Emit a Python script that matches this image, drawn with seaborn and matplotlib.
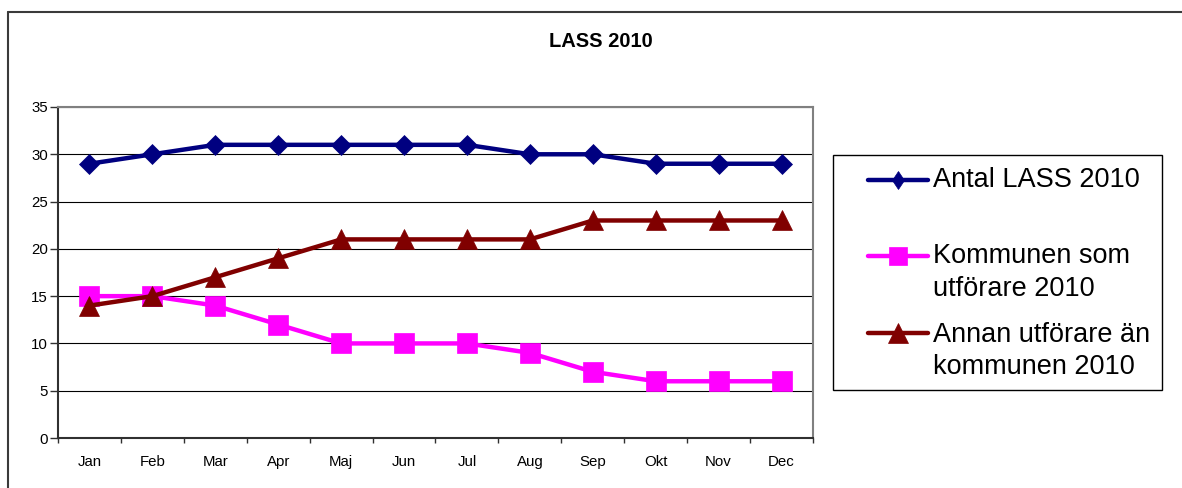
import matplotlib
matplotlib.use("Agg")
import matplotlib.pyplot as plt
from matplotlib.lines import Line2D
from matplotlib.patches import Rectangle
import numpy as np
import pandas as pd
import seaborn as sns

# Monthly counts for 2010
months = ["Jan", "Feb", "Mar", "Apr", "Maj", "Jun", "Jul", "Aug", "Sep", "Okt", "Nov", "Dec"]
antal_lass = [29, 30, 31, 31, 31, 31, 31, 30, 30, 29, 29, 29]
kommunen = [15, 15, 14, 12, 10, 10, 10, 9, 7, 6, 6, 6]
annan = [14, 15, 17, 19, 21, 21, 21, 21, 23, 23, 23, 23]

series_names = ["Antal LASS 2010", "Kommunen som\nutförare 2010", "Annan utförare än\nkommunen 2010"]
series_values = [antal_lass, kommunen, annan]
colors = ["#000080", "#FF00FF", "#800000"]
markers = ["D", "s", "^"]
marker_sizes = [10.5, 14, 15]
legend_markers = ["d", "s", "^"]
legend_marker_sizes = [9.5, 13.5, 14]

sns.set_theme(style="white")
plt.rcParams["font.family"] = ["Liberation Sans", "DejaVu Sans"]

W, H = 1182, 488
fig = plt.figure(figsize=(W / 100, H / 100), dpi=100)


def fx(px):
    return px / W


def fy(py):
    return 1 - py / H


ax = fig.add_axes([fx(58), fy(438), 755 / W, 331 / H])

pos = np.arange(len(months))
for name, vals, col, mk, ms in zip(series_names, series_values, colors, markers, marker_sizes):
    df = pd.DataFrame({"pos": pos, "value": vals})
    sns.lineplot(data=df, x="pos", y="value", ax=ax, color=col, marker=mk,
                 markersize=ms, markeredgecolor=col, markeredgewidth=0.5,
                 linewidth=3.2, errorbar=None, sort=False, legend=False)

ax.set_xlabel("")
ax.set_ylabel("")
ax.set_xlim(-0.5, len(months) - 0.5)
ax.set_ylim(0, 35)
ax.set_yticks(np.arange(0, 36, 5))

# category boundaries carry the tick marks, centres carry the labels
ax.set_xticks(np.arange(-0.5, len(months), 1))
ax.set_xticklabels([])
ax.set_xticks(pos, minor=True)
ax.set_xticklabels(months, minor=True)
ax.tick_params(axis="x", which="major", bottom=True, length=3.5, width=1,
               color="#303030", direction="out")
ax.tick_params(axis="x", which="minor", bottom=True, length=0, pad=12,
               labelsize=10.8, labelcolor="black")
ax.tick_params(axis="y", left=True, length=5.5, width=1, color="#303030",
               direction="out", pad=1.7, labelsize=10.8, labelcolor="black")

ax.yaxis.grid(True, color="black", linewidth=0.8)
ax.xaxis.grid(False)
ax.set_axisbelow(True)

for side in ["left", "bottom"]:
    ax.spines[side].set_color("#303030")
    ax.spines[side].set_linewidth(1.5)
for side in ["top", "right"]:
    ax.spines[side].set_color("#808080")
    ax.spines[side].set_linewidth(1.5)

# title
fig.text(fx(601), fy(47.3), "LASS 2010", ha="center", va="baseline",
         fontsize=14.5, fontweight="bold", color="black")

# legend panel
fig.add_artist(Rectangle((fx(833), fy(390)), fx(329), 235 / H, transform=fig.transFigure,
                         facecolor="white", edgecolor="black", linewidth=1))
handle_y = [180, 256, 333]
baselines = [[186.7], [263, 296.5], [341.5, 373.5]]
for name, col, mk, ms, hy, bls in zip(series_names, colors, legend_markers,
                                      legend_marker_sizes, handle_y, baselines):
    fig.add_artist(Line2D([fx(868), fx(928)], [fy(hy), fy(hy)], color=col, linewidth=3.2,
                          transform=fig.transFigure))
    fig.add_artist(Line2D([fx(898)], [fy(hy)], color=col, marker=mk, markersize=ms,
                          markeredgecolor=col, markeredgewidth=0.5, linestyle="none",
                          transform=fig.transFigure))
    for line, bl in zip(name.split("\n"), bls):
        fig.text(fx(933), fy(bl), line, ha="left", va="baseline", fontsize=19.5, color="black")

# chart frame
fig.add_artist(Line2D([fx(7.5), 1], [fy(12), fy(12)], color="#3a3a3a", linewidth=1.5,
                      transform=fig.transFigure))
fig.add_artist(Line2D([fx(7.5), fx(7.5)], [0, fy(12)], color="#3a3a3a", linewidth=1.5,
                      transform=fig.transFigure))

fig.savefig("out.png", dpi=100, facecolor="white")
